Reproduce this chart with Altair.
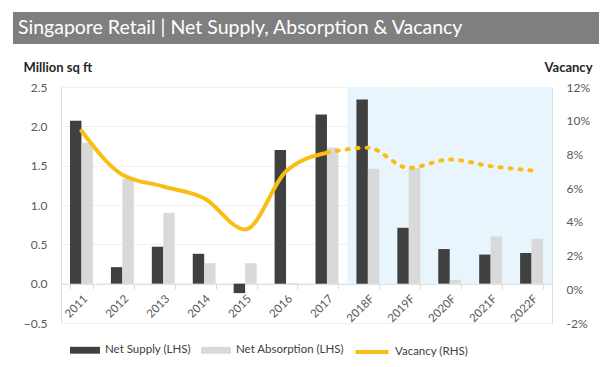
import altair as alt
import pandas as pd

years = ["2011", "2012", "2013", "2014", "2015", "2016", "2017",
         "2018F", "2019F", "2020F", "2021F", "2022F"]
net_supply = [2.07, 0.21, 0.47, 0.38, -0.12, 1.70, 2.15, 2.34, 0.71, 0.44, 0.37, 0.39]
net_absorption = [1.79, 1.33, 0.90, 0.26, 0.26, 0.01, 1.73, 1.46, 1.47, 0.05, 0.60, 0.57]
vacancy = [9.4, 6.8, 6.1, 5.4, 3.55, 7.0, 8.1, 8.4, 7.2, 7.7, 7.3, 7.05]
forecast_years = ["2018F", "2019F", "2020F", "2021F", "2022F"]
series_names = ["Net Supply (LHS)", "Net Absorption (LHS)"]
line_name = "Vacancy (RHS)"
title_text = "Singapore Retail | Net Supply, Absorption & Vacancy"

FONT = "Lato"
DARK = "#404040"
LIGHT = "#d9d9d9"
YEL = "#F9BE14"

bars_df = pd.DataFrame(
    [{"year": y, "series": series_names[0], "value": v} for y, v in zip(years, net_supply)]
    + [{"year": y, "series": series_names[1], "value": v} for y, v in zip(years, net_absorption)]
)
line_df = pd.DataFrame({"year": years, "vacancy": vacancy, "label": line_name})
solid_df = line_df.iloc[:7]
dotted_df = line_df.iloc[6:]
shade_df = pd.DataFrame({"year": forecast_years, "value": [2.5] * 5, "base": [0.0] * 5})
one = pd.DataFrame({"a": [0]})

x_axis = alt.Axis(labelAngle=-45, offset=-39.3, tickBand="extent", domainColor="#d9d9d9",
                  tickColor="#d9d9d9", tickSize=5, labelColor="#595959", labelFontSize=11.5,
                  labelPadding=4, grid=False, title=None)
x_scale = alt.Scale(paddingInner=0.44, paddingOuter=0.22)
x_main = alt.X("year:N", sort=years, title=None, scale=x_scale, axis=x_axis)

y_left_axis = alt.Axis(values=[-0.5, 0, 0.5, 1.0, 1.5, 2.0, 2.5], format=".1f",
                       title="Million sq ft", titleAngle=0, titleAlign="left",
                       titleBaseline="middle", titleX=-38, titleY=-20,
                       titleFontSize=13, titleFontWeight="bold", titleColor="#262626",
                       labelPadding=14, labelFontSize=12, labelColor="#595959",
                       gridColor="#f0f0f0", domain=False, ticks=False)
y_left_scale = alt.Scale(domain=[-0.5, 2.5], nice=False)

shade = alt.Chart(shade_df).mark_bar(color="#e9f5fc", width=alt.RelativeBandSize(1 / 0.56)).encode(
    x=x_main,
    y=alt.Y("value:Q", scale=y_left_scale, axis=y_left_axis, title="Million sq ft"),
    y2=alt.Y2("base:Q"),
)

bars = alt.Chart(bars_df).mark_bar().encode(
    x=x_main,
    xOffset=alt.XOffset("series:N", sort=series_names, scale=alt.Scale(domain=series_names)),
    y=alt.Y("value:Q", scale=y_left_scale, axis=y_left_axis, title="Million sq ft"),
    color=alt.Color("series:N", scale=alt.Scale(domain=series_names, range=[DARK, LIGHT]),
                    legend=alt.Legend(orient="none", legendX=9, legendY=248, direction="horizontal",
                                      title=None, symbolType="M-1,-0.23H1V0.23H-1Z", symbolSize=900,
                                      symbolStrokeWidth=0, labelFontSize=11.5, labelColor="#404040",
                                      labelOffset=5, columnPadding=10)),
)

title_bar = alt.Chart(one).mark_rect(color="#7f7f7f").encode(
    x=alt.value(-48), x2=alt.value(538), y=alt.value(-75), y2=alt.value(-43)
)
title_txt = alt.Chart(one).mark_text(align="left", baseline="middle", fontSize=19.5,
                                     color="white", font=FONT).encode(
    x=alt.value(-43), y=alt.value(-59), text=alt.value(title_text)
)

y_right = alt.Y("vacancy:Q", scale=alt.Scale(domain=[-2, 12], nice=False), title="Vacancy",
                axis=alt.Axis(orient="right", values=[-2, 0, 2, 4, 6, 8, 10, 12],
                              labelExpr="datum.value + '%'", grid=False, domain=False, ticks=False,
                              labelPadding=14, labelFontSize=12, labelColor="#595959",
                              title="Vacancy", titleAngle=0, titleAlign="right",
                              titleBaseline="middle", titleX=40, titleY=-20,
                              titleFontSize=13, titleFontWeight="bold", titleColor="#262626"))
stroke_enc = alt.Stroke("label:N", scale=alt.Scale(domain=[line_name], range=[YEL]),
                        legend=alt.Legend(orient="none", legendX=294, legendY=248, title=None,
                                          symbolType="M-1.1,0H1.1", symbolSize=900, symbolStrokeWidth=4,
                                          symbolDash=[1, 0],
                                          labelFontSize=11.5, labelColor="#404040", labelOffset=6))

solid = alt.Chart(solid_df).mark_line(interpolate="monotone", strokeWidth=4, strokeCap="round").encode(
    x=x_main, y=y_right, stroke=stroke_enc
)
dotted = alt.Chart(dotted_df).mark_line(interpolate="monotone", strokeWidth=4, strokeCap="round",
                                        strokeDash=[2, 8]).encode(
    x=x_main, y=y_right, stroke=stroke_enc
)

left = alt.layer(shade, bars, title_bar, title_txt)
right = alt.layer(solid, dotted)

chart = alt.layer(left, right).resolve_scale(y="independent").properties(
    width=491, height=236,
    padding={"left": 53, "top": 79, "right": 49, "bottom": 36},
    autosize=alt.AutoSizeParams(type="none"),
).configure_view(stroke=None).configure(font=FONT).configure_axis(labelFont=FONT, titleFont=FONT).configure_legend(
    labelFont=FONT
)

chart.save("out.html", embed_options={"renderer": "svg", "actions": False})
